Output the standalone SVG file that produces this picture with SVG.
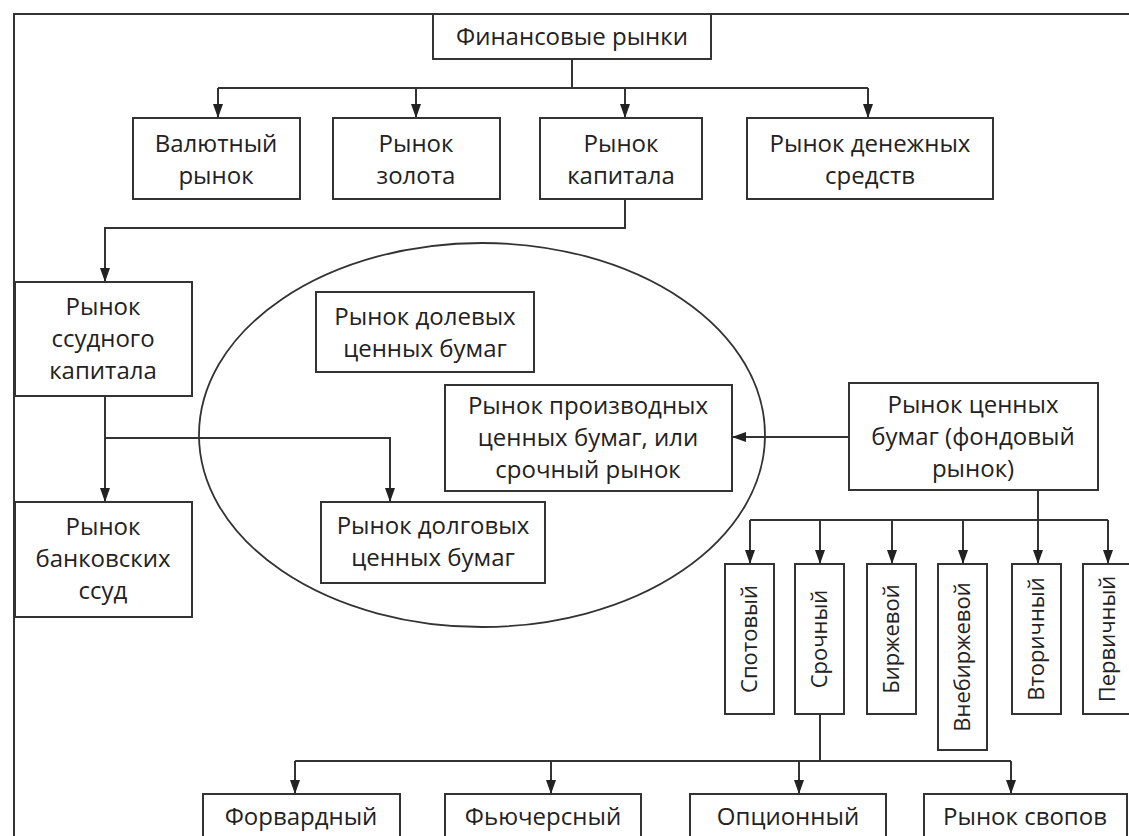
<svg xmlns="http://www.w3.org/2000/svg" width="1129" height="836" viewBox="0 0 1129 836">
<style>
.b{fill:#fff;stroke:#333;stroke-width:2}
.t{font-family:"Open Sans","Noto Sans","DejaVu Sans",sans-serif;font-size:24px;fill:#222;text-anchor:middle}
.v{font-family:"Open Sans","Noto Sans","DejaVu Sans",sans-serif;font-size:22px;fill:#222;text-anchor:middle}
.c{fill:none;stroke:#333;stroke-width:2}
.a{marker-end:url(#ah)}
</style>
<defs>
<marker id="ah" viewBox="0 0 14 10" refX="14" refY="5" markerWidth="14" markerHeight="10" orient="auto" markerUnits="userSpaceOnUse">
<path d="M0,0 L14,5 L0,10 z" fill="#222"/>
</marker>
</defs>
<rect width="1129" height="836" fill="#fff"/>
<g id="frame">
<path class="c" d="M14,836 V14 H1129"/>
</g>
<ellipse id="ellipse" cx="482" cy="435" rx="283" ry="192" fill="none" stroke="#333" stroke-width="1.8"/>
<g id="connectors">
<path class="c" d="M572,59 V88 M218,88 H868"/>
<path class="c a" d="M218,88 V118"/>
<path class="c a" d="M416,88 V118"/>
<path class="c a" d="M625,88 V118"/>
<path class="c a" d="M868,88 V118"/>
<path class="c a" d="M625,199 V228 H105 V282"/>
<path class="c a" d="M105,396 V502"/>
<path class="c a" d="M105,438 H390 V502"/>
<path class="c a" d="M849,437 H732"/>
<path class="c" d="M750,520 H1108"/>
<path class="c a" d="M1038,490 V564"/>
<path class="c a" d="M750,520 V564"/>
<path class="c a" d="M820,520 V564"/>
<path class="c a" d="M892,520 V564"/>
<path class="c a" d="M963,520 V564"/>
<path class="c a" d="M1108,520 V564"/>
<path class="c" d="M820,714 V761 M295,761 H1011"/>
<path class="c a" d="M295,761 V794"/>
<path class="c a" d="M551,761 V794"/>
<path class="c a" d="M799,761 V794"/>
<path class="c a" d="M1011,761 V794"/>
</g>
<g id="n-fin"><rect class="b" x="433" y="14" width="278" height="45"/><text class="t" x="572" y="45">Финансовые рынки</text></g>
<g id="n-val"><rect class="b" x="133" y="118" width="167" height="81"/><text class="t" x="216" y="152">Валютный</text><text class="t" x="216" y="184">рынок</text></g>
<g id="n-gold"><rect class="b" x="333" y="118" width="167" height="81"/><text class="t" x="416" y="152">Рынок</text><text class="t" x="416" y="184">золота</text></g>
<g id="n-cap"><rect class="b" x="540" y="118" width="162" height="81"/><text class="t" x="621" y="152">Рынок</text><text class="t" x="621" y="184">капитала</text></g>
<g id="n-money"><rect class="b" x="747" y="118" width="246" height="81"/><text class="t" x="870" y="152">Рынок денежных</text><text class="t" x="870" y="184">средств</text></g>
<g id="n-loan"><rect class="b" x="15" y="282" width="177" height="114"/><text class="t" x="103" y="315">Рынок</text><text class="t" x="103" y="347">ссудного</text><text class="t" x="103" y="379">капитала</text></g>
<g id="n-bank"><rect class="b" x="15" y="502" width="177" height="115"/><text class="t" x="103" y="535">Рынок</text><text class="t" x="103" y="567">банковских</text><text class="t" x="103" y="599">ссуд</text></g>
<g id="n-equity"><rect class="b" x="316" y="292" width="218" height="80"/><text class="t" x="425" y="325">Рынок долевых</text><text class="t" x="425" y="357">ценных бумаг</text></g>
<g id="n-deriv"><rect class="b" x="445" y="385" width="287" height="106"/><text class="t" x="588" y="414">Рынок производных</text><text class="t" x="588" y="446">ценных бумаг, или</text><text class="t" x="588" y="478">срочный рынок</text></g>
<g id="n-debt"><rect class="b" x="321" y="502" width="224" height="81"/><text class="t" x="433" y="534">Рынок долговых</text><text class="t" x="433" y="566">ценных бумаг</text></g>
<g id="n-sec"><rect class="b" x="849" y="383" width="249" height="107"/><text class="t" x="973" y="413">Рынок ценных</text><text class="t" x="973" y="445">бумаг (фондовый</text><text class="t" x="973" y="477">рынок)</text></g>
<g id="n-spot"><rect class="b" x="725" y="564" width="49" height="150"/><text class="v" transform="translate(757,639) rotate(-90)">Спотовый</text></g>
<g id="n-term"><rect class="b" x="795" y="564" width="49" height="150"/><text class="v" transform="translate(827,639) rotate(-90)">Срочный</text></g>
<g id="n-exch"><rect class="b" x="867" y="564" width="49" height="150"/><text class="v" transform="translate(899,639) rotate(-90)">Биржевой</text></g>
<g id="n-otc"><rect class="b" x="938" y="564" width="49" height="186"/><text class="v" transform="translate(970,657) rotate(-90)">Внебиржевой</text></g>
<g id="n-second"><rect class="b" x="1012" y="564" width="49" height="150"/><text class="v" transform="translate(1044,639) rotate(-90)">Вторичный</text></g>
<g id="n-prim"><rect class="b" x="1083" y="564" width="49" height="150"/><text class="v" transform="translate(1115,639) rotate(-90)">Первичный</text></g>
<g id="n-fwd"><rect class="b" x="203" y="794" width="197" height="60"/><text class="t" x="301" y="825">Форвардный</text></g>
<g id="n-fut"><rect class="b" x="445" y="794" width="196" height="60"/><text class="t" x="543" y="825">Фьючерсный</text></g>
<g id="n-opt"><rect class="b" x="690" y="794" width="196" height="60"/><text class="t" x="788" y="825">Опционный</text></g>
<g id="n-swap"><rect class="b" x="924" y="794" width="203" height="60"/><text class="t" x="1025" y="825">Рынок свопов</text></g>
</svg>
